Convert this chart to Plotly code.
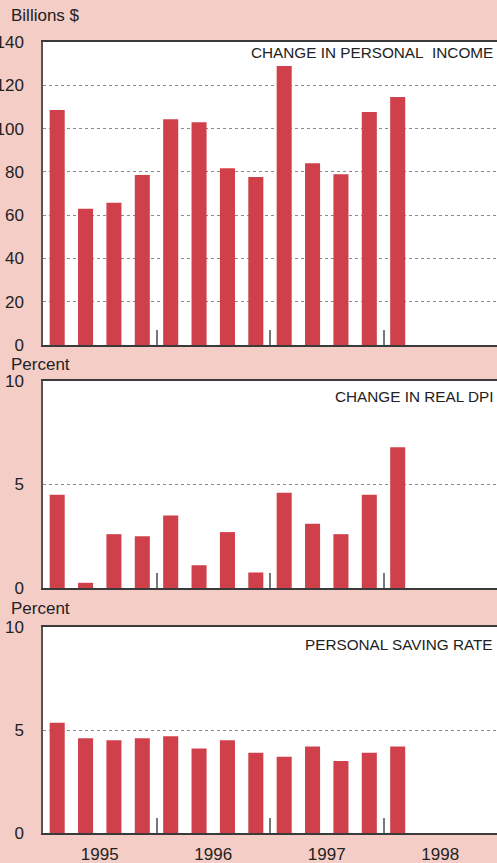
import plotly.graph_objects as go

# ---------------- data ----------------
quarters = ["1995Q1", "1995Q2", "1995Q3", "1995Q4",
            "1996Q1", "1996Q2", "1996Q3", "1996Q4",
            "1997Q1", "1997Q2", "1997Q3", "1997Q4",
            "1998Q1"]
all_quarters = quarters + ["1998Q2", "1998Q3", "1998Q4"]
years = ["1995", "1996", "1997", "1998"]

income_change = [108.6, 62.9, 65.7, 78.5, 104.3, 102.9, 81.7, 77.6,
                 128.9, 84.0, 78.9, 107.7, 114.6]          # billions $
real_dpi_change = [4.5, 0.25, 2.6, 2.5, 3.5, 1.1, 2.7, 0.75,
                   4.6, 3.1, 2.6, 4.5, 6.8]               # percent
saving_rate = [5.35, 4.6, 4.5, 4.6, 4.7, 4.1, 4.5, 3.9,
               3.7, 4.2, 3.5, 3.9, 4.2]                   # percent

panel_titles = ["CHANGE IN PERSONAL\u00a0 INCOME", "CHANGE IN REAL DPI",
                "PERSONAL SAVING RATE"]
unit_labels = ["Billions $", "Percent", "Percent"]
y_ticks = [[0, 20, 40, 60, 80, 100, 120, 140], [0, 5, 10], [0, 5, 10]]
y_ranges = [[0, 140], [0, 10], [0, 10]]

# ---------------- styling ----------------
W, H = 497, 863
L, R, T, B = 43, 0, 42, 30
PINK = "#F4CDC6"
RED = "#D0404A"
TXT = "#222222"
FONT = "Liberation Sans, Arial, Helvetica, sans-serif"


def yp(py):
    return 1 - (py - T) / (H - T - B)


def xp(px):
    return (px - L) / (W - L - R)


panel_px = [(42, 345), (381, 588), (627, 833)]
title_offsets = [11, 16, 17]
unit_offsets = [27, 17, 19]

xpos = [all_quarters.index(q) for q in quarters]
year_centers = [all_quarters.index(y + "Q1") + 1.5 for y in years]
year_bounds = [all_quarters.index(y + "Q1") - 0.5 for y in years[1:]]

fig = go.Figure()
series = [income_change, real_dpi_change, saving_rate]
for i, vals in enumerate(series):
    sfx = "" if i == 0 else str(i + 1)
    fig.add_trace(go.Bar(x=xpos, y=vals, marker_color=RED,
                         marker_line_width=0, xaxis="x" + sfx,
                         yaxis="y" + sfx, showlegend=False,
                         hoverinfo="skip"))

layout = dict(
    width=W, height=H,
    margin=dict(l=L, r=R, t=T, b=B, pad=0),
    paper_bgcolor=PINK, plot_bgcolor="white",
    bargap=0.47,
    font=dict(family=FONT, color=TXT, size=17),
    showlegend=False,
)

annotations = []
for i in range(3):
    sfx = "" if i == 0 else str(i + 1)
    top, bot = panel_px[i]
    layout["xaxis" + sfx] = dict(
        domain=[0, 1], anchor="y" + sfx, range=[-0.5, len(all_quarters) - 0.5],
        automargin=False,
        showgrid=False, zeroline=False,
        showline=True, mirror=True, linecolor="#3a3a3a", linewidth=1.5,
        tickmode="array", tickvals=year_centers, ticktext=years,
        ticks="", showticklabels=(i == 2), ticklabelstandoff=5,
        tickfont=dict(size=17, color=TXT),
        minor=dict(tickmode="array", tickvals=year_bounds, ticks="inside",
                   ticklen=15, tickwidth=2, tickcolor="#777777",
                   showgrid=False),
    )
    layout["yaxis" + sfx] = dict(
        domain=[yp(bot), yp(top)], anchor="x" + sfx, range=y_ranges[i],
        automargin=False,
        tickmode="array", tickvals=y_ticks[i],
        showgrid=True, gridcolor="#8a8a8a", gridwidth=1, griddash="dot",
        zeroline=False, showline=True, linecolor="#555555", linewidth=1.5,
        ticks="", ticklabelstandoff=14,
        tickfont=dict(size=17, color=TXT),
    )
    annotations.append(dict(
        text=panel_titles[i], xref="paper", yref="paper",
        x=xp(495), y=yp(top + title_offsets[i]), xanchor="right",
        yanchor="middle", showarrow=False,
        font=dict(size=15.3, color=TXT, family=FONT)))
    annotations.append(dict(
        text=unit_labels[i], xref="paper", yref="paper",
        x=xp(9), y=yp(top - unit_offsets[i]),
        xanchor="left", yanchor="middle",
        showarrow=False, font=dict(size=17, color=TXT, family=FONT)))

layout["annotations"] = annotations
fig.update_layout(**layout)
fig.write_html("out.html",
               config={"displayModeBar": False},
               post_script="document.body.style.margin='0';"
                           "document.body.style.overflow='hidden';")
